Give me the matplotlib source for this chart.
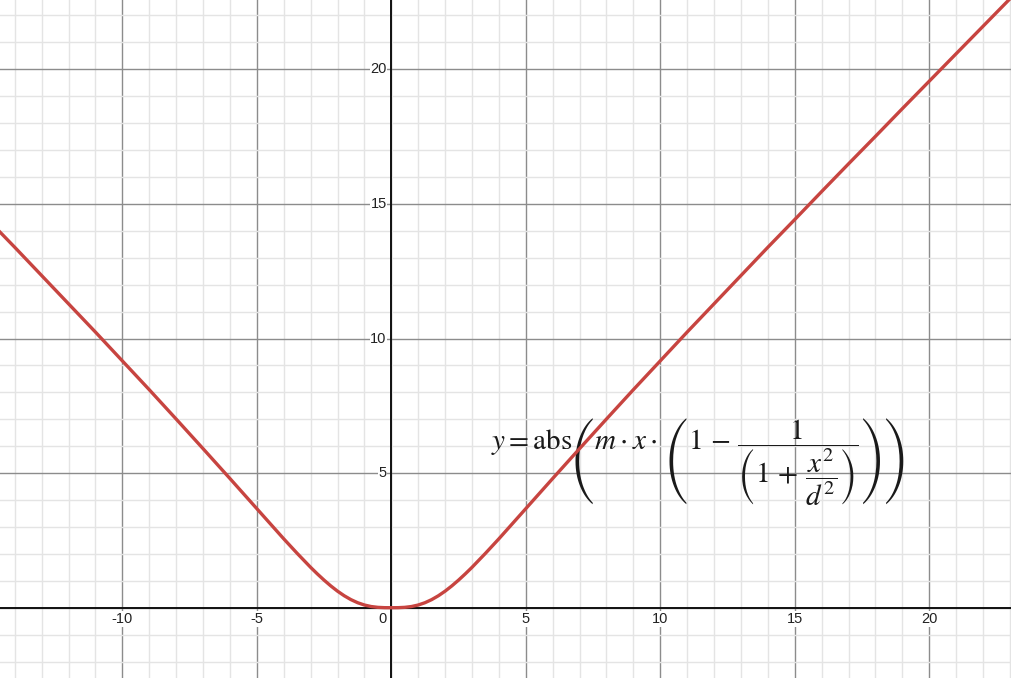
import matplotlib
matplotlib.use("Agg")
import matplotlib.pyplot as plt
from matplotlib.ticker import MultipleLocator

# curve points
xs = [-15, -14, -13, -12, -11, -10, -9, -8, -7, -6, -5,
      -4.5, -4, -3.5, -3, -2.75, -2.5, -2.25, -2, -1.75, -1.5, -1.25, -1,
      -0.75, -0.5, -0.25, 0,
      0.25, 0.5, 0.75, 1, 1.25, 1.5, 1.75, 2, 2.25, 2.5, 2.75, 3,
      3.5, 4, 4.5,
      5, 6, 7, 8, 9, 10, 11, 12, 13, 14, 15, 16, 17, 18, 19, 20, 21, 22, 23, 24]
ys = [14.42, 13.39, 12.34, 11.29, 10.24, 9.17, 8.10, 7.01, 5.91, 4.80, 3.68,
      3.12, 2.56, 2.02, 1.50, 1.256, 1.025, 0.810, 0.615, 0.444, 0.30, 0.185, 0.10,
      0.044, 0.0135, 0.0017, 0.0,
      0.0017, 0.0135, 0.044, 0.10, 0.185, 0.30, 0.444, 0.615, 0.810, 1.025, 1.256, 1.50,
      2.02, 2.56, 3.12,
      3.68, 4.80, 5.91, 7.01, 8.10, 9.17, 10.24, 11.29, 12.34, 13.39, 14.42,
      15.46, 16.49, 17.51, 18.54, 19.56, 20.58, 21.60, 22.62, 23.63]

x_labels = [-10, -5, 5, 10, 15, 20]
y_labels = [5, 10, 15, 20]

formula = (r"$y=\mathrm{abs}\left(m\cdot x\cdot\,\left(1\,-\,"
           r"\dfrac{1}{\left(1\,+\,\dfrac{x^2}{d^2}\right)}\right)\right)$")

plt.rcParams["mathtext.fontset"] = "stix"

fig = plt.figure(figsize=(10.12, 6.78), dpi=100)
ax = fig.add_axes([0, 0, 1, 1])
ax.set_xlim(-14.547, 23.075)
ax.set_ylim(-2.611, 22.574)

ax.xaxis.set_major_locator(MultipleLocator(5))
ax.xaxis.set_minor_locator(MultipleLocator(1))
ax.yaxis.set_major_locator(MultipleLocator(5))
ax.yaxis.set_minor_locator(MultipleLocator(1))
ax.grid(which="minor", color="#e4e4e4", lw=1.0)
ax.grid(which="major", color="#8c8c8c", lw=1.0)
ax.tick_params(which="both", length=0, labelbottom=False, labelleft=False)
for s in ax.spines.values():
    s.set_visible(False)

ax.axhline(0, color="#111111", lw=1.4, zorder=2)
ax.axvline(0, color="#111111", lw=1.4, zorder=2)

lab = dict(fontsize=10.5, family="Liberation Sans", color="#222222", zorder=3,
           bbox=dict(facecolor="white", edgecolor="none", pad=0.5))
for v in x_labels:
    ax.text(v, -0.42, str(v), ha="center", va="center", **lab)
ax.text(-0.32, -0.42, "0", ha="center", va="center", **lab)
for v in y_labels:
    ax.text(-0.17, v, str(v), ha="right", va="center", **lab)

ax.text(3.72, 5.86, formula, fontsize=21, color="#1a1a1a", ha="left",
        va="baseline", zorder=3)

ax.plot(xs, ys, color="#c74440", lw=2.4, zorder=4, solid_joinstyle="round")

fig.savefig("out.png", dpi=100)
